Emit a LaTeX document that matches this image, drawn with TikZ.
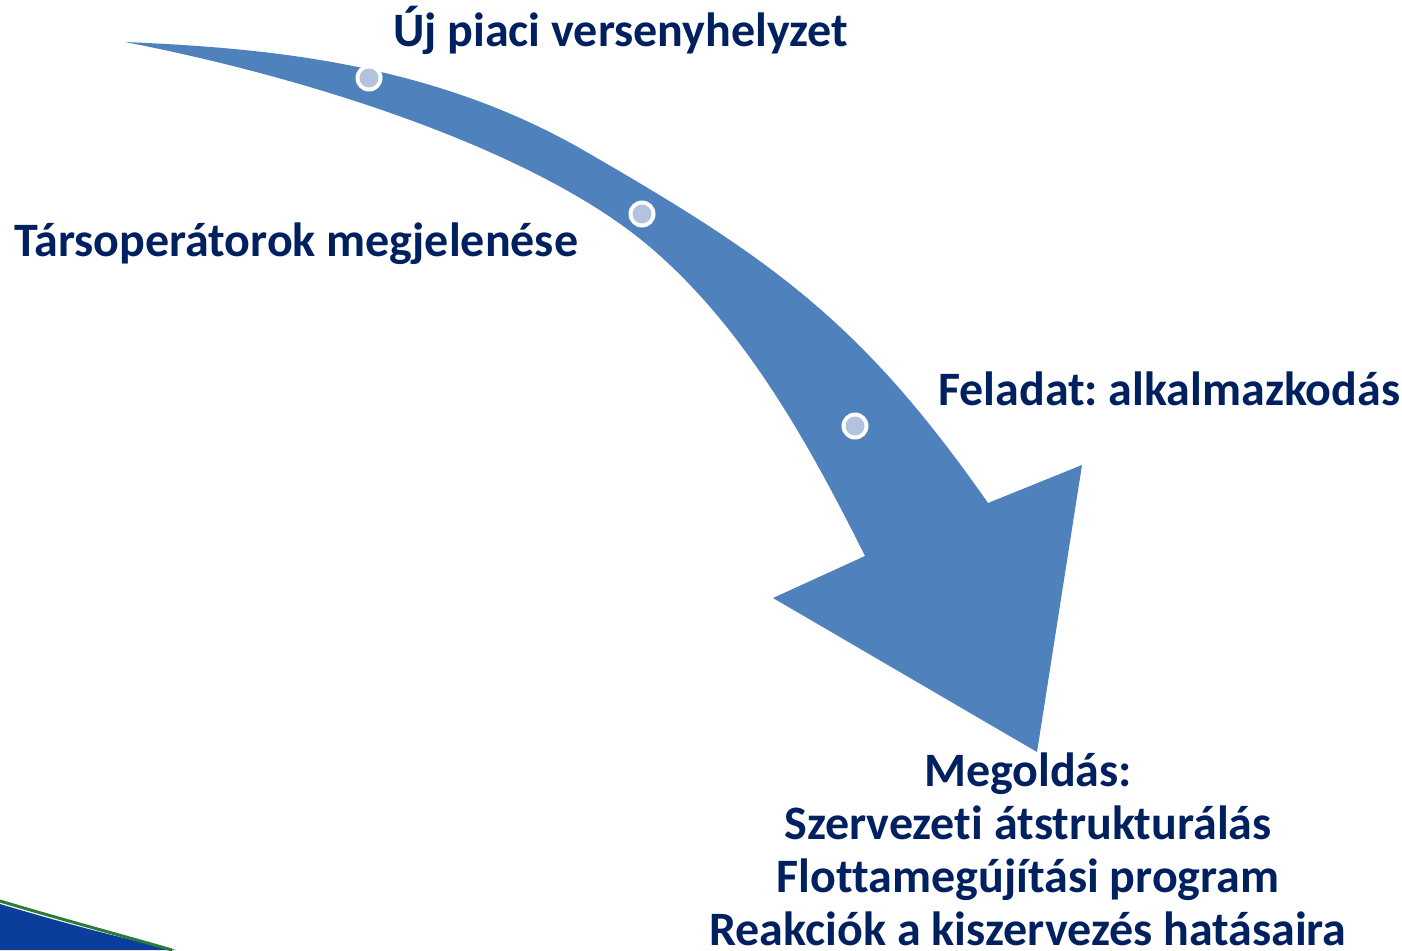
\documentclass[tikz,border=0pt]{standalone}
\usepackage{fontspec}
\setmainfont[Ligatures={NoCommon}]{Carlito}
\begin{document}
\frenchspacing
\begin{tikzpicture}[x=1pt,y=-1pt,
  lbl/.style={inner sep=0pt,font=\bfseries\fontsize{48}{53}\selectfont,text=navy},
  dotouter/.style={fill=white},
  dotinner/.style={fill=dotblue}]
\definecolor{navy}{HTML}{002060}
\definecolor{arrowblue}{HTML}{4F81BD}
\definecolor{dotblue}{HTML}{B3C3DE}
\definecolor{swooshblue}{HTML}{0B3D9A}
\definecolor{swooshgreen}{HTML}{2E7A3A}
\useasboundingbox (0,0) rectangle (1402,950);
% bottom-left swoosh
\fill[swooshblue] (0,904) .. controls (60,922) and (120,938) .. (176,950) -- (0,950) -- cycle;
\draw[swooshgreen,line width=3pt] (0,901) .. controls (60,919) and (120,935) .. (172,950);
% arrow
\fill[arrowblue] (125,42) .. controls (265,48) and (430,62) .. (583,150)
  .. controls (774,260) and (862,323) .. (988,503)
  -- (1082,465) -- (1037,752) -- (773,598) -- (865,556)
  .. controls (809,444) and (745,328) .. (650,247)
  .. controls (536,150) and (311,78) .. (125,42) -- cycle;
% dots
\foreach \p in {(369,78),(642,214),(855,426)}{
  \fill[dotouter] \p circle (13.5);
  \fill[dotinner] \p circle (9.5);
}
% labels
\node[lbl,anchor=base west] (t1) at (393,47) {Új piaci versenyhelyzet};
\node[lbl,anchor=base west] (t2) at (14,256) {Társoperátorok megjelenése};
\node[lbl,anchor=base west] (t3) at (938,405) {Feladat: alkalmazkodás};
\node[lbl,anchor=north,align=center] (t4) at (1028,753) {Megoldás:\\Szervezeti átstrukturálás\\Flottamegújítási program\\Reakciók a kiszervezés hatásaira};
\end{tikzpicture}
\end{document}
